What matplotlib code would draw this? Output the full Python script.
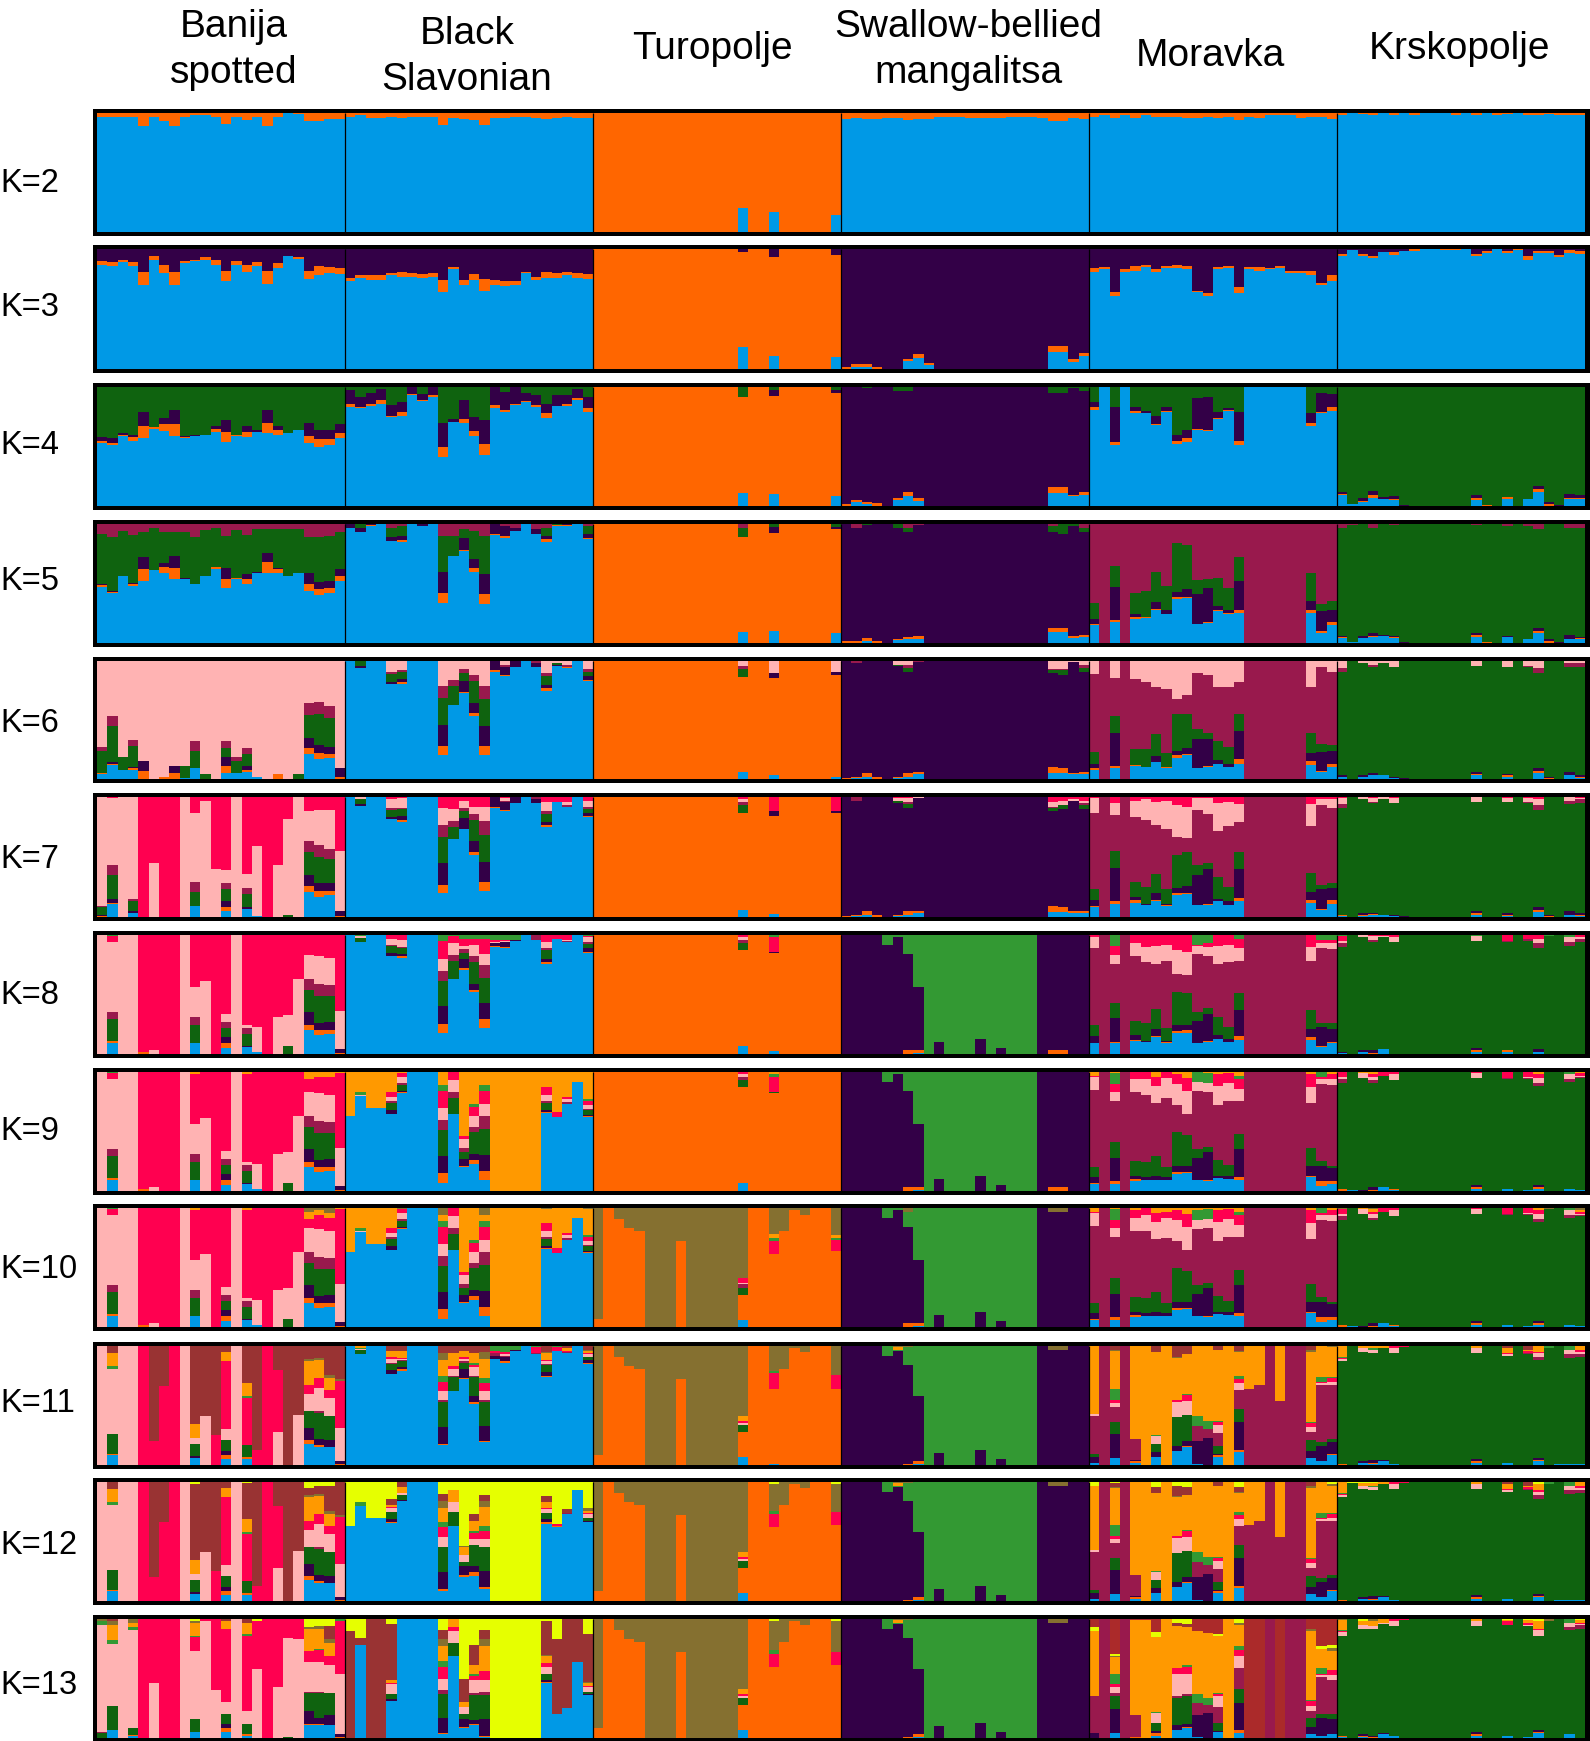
import numpy as np
import matplotlib
matplotlib.use("Agg")
import matplotlib.pyplot as plt
from matplotlib.patches import Rectangle

W, H = 1590, 1741
plt.rcParams['font.family'] = ['Liberation Sans', 'DejaVu Sans']

POPS = ["Banija\nspotted", "Black\nSlavonian", "Turopolje", "Swallow-bellied\nmangalitsa", "Moravka", "Krskopolje"]
KS = [2, 3, 4, 5, 6, 7, 8, 9, 10, 11, 12, 13]
ORDER = "bopgmkrlavnyf"
COLORS = dict(b="#0099E6", o="#FF6600", p="#330047", g="#0F630F", m="#99194D", k="#FFB3B3", r="#FF0050",
              l="#339933", a="#FF9900", v="#857030", n="#993333", y="#E6FF00", f="#AB2A2A")


def cols(keys, *series):
    return {i: (keys, *[s[i] for s in series]) for i in range(24)}


def with_top(spec, key, vals):
    out = dict(spec)
    for c, v in vals.items():
        e = out.get(c, ("",))
        out[c] = (e[0] + key, *e[1:], v)
    return out


def move(spec, src, dst, vals):
    out = dict(spec)
    for c, v in vals.items():
        e = out[c]
        k = e[0]
        nums = list(e[1:])
        i = k.index(src)
        nums[i] = max(nums[i] - v, 0)
        out[c] = (k + dst, *nums, v)
    return out


# ---------- K=2 ----------
K2 = [
 ("b", cols("o", [3,3,3,3,11,3,7,11,3,2,2,3,9,3,6,3,11,3,0,1,7,7,5,5])),
 ("b", cols("o", [3,2,4,4,3,4,3,3,3,10,4,5,6,10,4,4,3,3,4,5,4,3,4,4])),
 ("o", {14:("b",20), 17:("b",17), 23:("b",14)}),
 ("b", cols("o", [5,4,5,5,4,4,6,5,5,3,3,3,4,4,4,4,3,3,3,4,7,7,4,5])),
 ("b", cols("o", [3,2,4,2,4,2,3,3,3,4,4,3,4,3,6,3,4,2,2,2,4,3,3,5])),
 ("b", cols("o", [2,0,1,2,0,2,0,2,0,0,0,2,0,2,0,2,1,0,2,2,1,2,2,2])),
]
# ---------- K=3 ----------
K3 = [
 ("b", cols("op", [3,3,2,3,11,3,7,11,2,1,2,4,9,3,6,3,11,4,0,1,7,8,5,5],
                  [10,11,9,11,19,6,13,19,10,9,7,9,18,10,13,11,18,12,6,7,18,14,15,16])),
 ("b", cols("op", [3,2,4,4,2,4,3,3,3,10,2,4,5,10,4,4,3,1,3,5,4,3,4,4],
                  [24,22,22,22,20,19,20,21,20,26,15,26,21,25,26,27,27,19,23,19,20,19,20,21])),
 ("o", {14:("bp",18,2.5), 17:("bp",11,7), 23:("bp",10,5)}),
 ("p", {0:("o",2), 1:("bo",1.5,2.5), 2:("bo",1.5,3), 3:("o",2), 6:("bo",7,1.5), 7:("bo",9,3.5), 8:("bo",3,2),
        20:("bo",14,5), 21:("bo",14,5), 22:("bo",6,2), 23:("bo",11,2)}),
 ("b", cols("op", [3,2,3,2,4,2,2,2,3,3,1,2,2,2,5,2,3,1,2,2,2,4,2,5],
                  [16,15,36,17,14,13,17,14,13,14,35,37,15,14,32,15,15,16,14,18,18,18,28,22])),
 ("b", cols("op", [2,0,1.5,1.5,0,2.5,0,2,0,0,1,1,0,2,1,0,1,1,3,2,1,1.5,2,2.5],
                  [4,1,4,6,2.5,2.5,2,0,0,0,0,0,0,4,2,0,2,0,6,1.5,2,5,1,2])),
]
# ---------- K=4 ----------
K4 = [
 ("g", cols("bop", [53,51,59,55,57,65,63,59,57,59,60,62,54,59,58,62,61,60,61,64,53,50,51,57],
                   [2,2,1,3,10,1,6,10,1,0,0,3,8,1,4,0,9,4,0,0,6,6,5,4],
                   [3,4,1,2,12,0,5,12,1,1,0,2,10,0,5,2,11,3,0,0,11,8,8,8])),
 ("g", cols("bop", [83,82,84,86,75,76,93,88,92,41,71,70,59,43,82,79,85,87,83,74,84,84,89,79],
                   [3,1,2,3,1,3,1,1,1,9,0,3,4,9,3,2,1,1,2,4,0,2,2,3],
                   [11.5,9,9,9,9,8,6,5,7,20,2,16,12,20,15,15,14,7,8,8,9,7,7,10])),
 ("o", {14:("bg",11,8), 17:("bpg",10,5,2.5), 23:("bpg",8,2.5,2.5)}),
 ("p", {0:("o",2), 1:("bo",3,2), 2:("bog",1.5,2,1), 3:("o",2.5), 5:("bog",5,1.5,3), 6:("bog",8,3.5,3.5), 7:("bo",4,3),
        20:("bog",11,5,5), 21:("bog",11,5,5), 22:("bog",8,1.5,1), 23:("bog",9,2.5,3)}),
 ("g", cols("bop", [81,100,51,100,78,78,68,79,52,54,64,63,73,80,51,100,100,100,100,100,100,67,78,80],
                   [2,0,3,0,2,.5,.5,1,3,3,1,1,1,.5,4,0,0,0,0,0,0,3,1,3],
                   [4,0,29,0,3,1,7,3,5,7,26,28,5,2,24,0,0,0,0,0,0,8,16,11])),
 ("g", {0:("bop",9,1,2), 1:("b",2), 2:("bop",3,1,3), 3:("bop",7,2,4), 4:("bp",6,1.5), 5:("bop",5,1,2), 6:("p",1),
        13:("bop",5,1.5,2.5), 14:("o",.5), 16:("bo",6,1.5), 18:("b",6), 19:("bop",12,2,2.5), 20:("op",1.5,1.5),
        21:("p",1), 22:("bop",6,1,3), 23:("bop",6,1,2)}),
]
# ---------- K=5 ----------
K5 = [
 ("g", cols("bopm", [47,42,56,48,52,61,59,54,54,50,56,62,46,54,50,59,59,59,56,59,44,40,42,52],
                    [1.5,1,0,1.5,10,0,5,9,0,0,0,2,8,1,4,0,9,3,0,0,6,5,4,4],
                    [1,1,0,1,10,0,3,10,1,0,0,0,9,0,4,1,8,1,0,0,9,6,6,6],
                    [8,11,6,9,7,3,7,7,7,11,5,3,10,5,9,4,4,4,4,4,11,11,10,7])),
 ("b", {0:("p",3), 1:("pg",3.5,3.5), 2:("op",1,1), 4:("pgm",3.5,8,3), 5:("opgm",1.5,3,9,1.5), 7:("p",2),
        9:("opgm",8,18,30,10), 10:("gm",17,10), 11:("opgm",1,10,8,4), 12:("opgm",3,8,23,6), 13:("opgm",8,17,32,10),
        14:("op",1,8), 15:("opm",1.5,8,2), 16:("pm",3,3), 18:("pm",4,4), 19:("opgm",2.5,3,7,3), 20:("og",1,1),
        21:("op",1,1), 23:("opgm",1,4,6,2)}),
 ("o", {14:("bgm",9.5,8,3), 17:("bpg",10,5,2.5), 23:("bpg",8.5,2,2.5)}),
 ("p", {0:("o",1.5), 1:("om",1.5,3), 2:("bog",2,2.5,.5), 3:("o",2), 5:("bog",2.5,1,3), 6:("bogm",3,2,4,3), 7:("bom",3,2.5,1),
        20:("bogm",9,4,5,1.5), 21:("bog",9,4,8), 22:("bog",4.5,1.5,1.5), 23:("bogm",5,2,4,3)}),
 ("m", {0:("bopg",15,1,4,14), 2:("bopg",18,1,28,18), 4:("bopg",20,2,2,18), 5:("bog",21,.5,22), 6:("bopg",28,.5,6,25),
        7:("bopg",24,.5,3,20), 8:("bopg",37,2,4,41), 9:("bopg",38,1,6,37), 10:("bpg",16,25,12), 11:("bopg",17,1,28,8),
        12:("bopg",27,1,3,24), 13:("bopg",24,1,3,18), 14:("bopg",25,3,24,20), 21:("bopg",25,3,7,24),
        22:("bopg",8,2,17,6), 23:("bopg",15,3,10,7)}),
 ("g", {0:("bopm",4,1,1,3), 1:("bm",.5,1), 2:("bp",4,1.5), 3:("bopm",5,.5,3,3), 4:("bp",6,1), 5:("bopm",4,1,1,1), 6:("p",1),
        13:("bopm",5,1.5,2,1), 14:("o",1), 16:("bpm",5,1,1.5), 18:("bm",3,1.5), 19:("bopm",8,2,3,4), 20:("op",1.5,1.5),
        21:("p",1), 22:("bopm",3,.5,3,3), 23:("bopm",3,1,1,3)}),
]
# ---------- K=6 ----------
K6 = [
 ("k", {0:("bogm",4,1.5,18,4), 1:("bopgm",12,1,1,31,8), 2:("bg",8,11), 3:("bopgm",8,1,1,18,5), 4:("op",7,8), 6:("o",2),
        7:("op",5,6), 8:("bg",1,10), 9:("bgm",9,15,8), 10:("g",4), 12:("bopgm",5,6,8,7,6), 13:("bogm",5,.5,10,3),
        14:("bopgm",6,2,3,10,5), 15:("b",2), 17:("o",4), 19:("g",4), 20:("bopgm",21,5,9,19,10), 21:("bopgm",17,5,7,26,10),
        22:("bopgm",18,3,6,25,10), 23:("op",2,7)}),
 ("b", {1:("pg",2,4), 4:("pgmk",1.5,7,2,9), 5:("opgmk",1.5,3,6,1,8), 9:("opgmk",8,18,23,10,21), 10:("gmk",16,5,16),
        11:("opgmk",1,9,7,3,7), 12:("opgmk",3,8,19,5,12), 13:("opgmk",8,17,23,11,21), 14:("op",1,8), 15:("opmk",1,7,2,3),
        16:("p",5), 18:("pm",3,2), 19:("opgmk",2.5,2.5,8,2.5,10), 20:("opgk",.5,1,1,2), 21:("omk",1,2,3), 23:("opgmk",1,3,4,2,7)}),
 ("o", {14:("bgmk",6,7,2,4.5), 17:("bpk",3,4,10), 23:("bpk",2,2,9.5)}),
 ("p", {0:("o",1), 1:("bom",.5,1.5,2), 2:("bo",2,3), 3:("o",2), 5:("bogk",.5,1.5,1,3), 6:("bogmk",2,3,3,3,3), 7:("bom",4,2,1),
        20:("bogmk",5,5,2,1,7), 21:("bogmk",5,4,4,1,7), 22:("bok",4,1,1), 23:("bogmk",4,2,3,3,3)}),
 ("m", {0:("bopgk",8,1,4,10,11), 2:("bopgk",9,2,28,14,14), 4:("bogk",11,1,13,15), 5:("bogk",10,.5,15,18), 6:("bopgk",14,.5,5,19,22),
        7:("bogk",9,1,12,24), 8:("bopgk",18,2,4,31,32), 9:("bopgk",20,1,5,29,29), 10:("bpgk",9,25,8,10), 11:("bopgk",10,1,23,5,12),
        12:("bpgk",13,3,16,22), 13:("bpgk",10,3,14,22), 14:("bopgk",13,4,24,14,18), 21:("bopgk",12,3,7,17,22),
        22:("bopgk",6,1,16,7,5), 23:("bopgk",10,3,11,5,9)}),
 ("g", {0:("bpmk",2,1,3,6), 2:("bpk",2,1,2), 3:("bopmk",3,.5,2,2,3), 4:("bpk",3,.5,2), 5:("bopk",.5,.5,1,5), 6:("p",.5),
        13:("bopk",3,1,2,4), 16:("bopk",2,1,1,5), 18:("mk",1,4), 19:("bopmk",5,2,2,4,6), 20:("op",1,1),
        22:("bpmk",3,3,3,2), 23:("bopmk",1,1,1,3,2)}),
]
# ---------- K=7 ----------
K7 = [
 ("k", {0:("opgm",1,1,6,1), 1:("bopgmr",11,1,3,20,8,1), 3:("bpgm",3,2,8,2), 4:("r",100), 5:("r",55), 6:("r",100), 7:("r",100),
        9:("bgmr",9,12,8,13), 10:("r",3), 11:("r",60), 12:("bopgmr",5,3,5,10,5,61), 14:("bpgmr",7,1,11,5,64), 15:("br",1,41),
        16:("r",100), 17:("r",57), 18:("gr",2,18), 20:("bopgmr",21,5,9,19,9,12), 21:("bopgmr",17,5,6,22,10,11),
        22:("bopgmr",18,4,6,20,9,11), 23:("opr",1,4,45)}),
 ("b", {1:("pgk",2,4,1.5), 4:("pgmkr",1.5,6,1,8,1.5), 5:("opgmkr",1.5,3,6,1,8,1), 9:("opgmkr",7,18,22,10,14,9), 10:("gmkr",10,5,10,10),
        11:("opgmkr",.5,9,6,2.5,6,3), 12:("opgmkr",2,9,18,5,6,8), 13:("opgmkr",7,17,22,12,12,8), 14:("op",1,8), 15:("opmkr",1,7,1,2,1),
        16:("p",5), 18:("pm",3,2), 19:("opgmkr",2,2,7,2,8,4), 20:("r",4), 21:("mkr",1,3,4), 23:("opgmkr",.5,3,3,2,5,3)}),
 ("o", {14:("bgmkr",6,7,2,3,1.5), 17:("bpr",2.5,4,12), 23:("pr",1,12)}),
 ("p", {0:("o",1), 1:("bom",.5,1,3), 2:("bo",2,3), 3:("o",2), 5:("bogkr",.5,1,1.5,3,.5), 6:("bogmkr",2,3,3,2,3,1), 7:("bok",3,2,.5),
        20:("bogmkr",4,5,3,1,4,4), 21:("bogkr",4,4,3,4,3), 22:("bogkr",3,2,.5,1,2), 23:("bogmkr",3,2,3,2,2,3)}),
 ("m", {0:("bopgkr",8,1,5,9,12,1), 2:("bopgkr",11,2,28,14,10,5), 4:("bopgkr",12,2,3,12,14,3), 5:("bpgkr",10,1,14,17,2), 6:("bopgkr",13,1,6,16,19,4),
        7:("bopgkr",9,1,1,12,24,3), 8:("bopgkr",18,2,4,28,26,7), 9:("bopgkr",19,1,6,28,26,8), 10:("bpgkr",10,25,8,10,1), 11:("bopgkr",10,1,29,5,13,1),
        12:("bpgkr",13,2,18,23,5), 13:("bpgkr",10,3,12,20,4), 14:("bopgkr",13,3,24,14,15,6), 21:("bopgkr",12,2,7,16,18,6),
        22:("bopgkr",6,1,16,4,5,2), 23:("bopgkr",11,3,10,4,7,2)}),
 ("g", {0:("bopmkr",1,.5,.5,3,5,1), 2:("bopk",1,1,1,2), 3:("bopmkr",2,.5,1,1,3,1), 4:("bk",2,2), 5:("bopkr",.5,.5,.5,4,1), 6:("p",.5),
        13:("bopk",2,1,2,4), 16:("bopkr",1,1,1,3,1), 18:("mkr",1,3,1), 19:("bopmkr",4,2,2,4,5,2), 20:("op",1,1),
        22:("bpmk",2,3,3,3), 23:("bopmkr",1,1,1,3,1,1)}),
]
# ---------- K=8 ----------
BAN8 = {0:("k",100), 1:("bogmkrl",9,2,18,6,59,5,1), 2:("k",100), 3:("k",100), 4:("o",2), 5:("k",3), 8:("k",100),
        9:("bgmk",9,15,7,25), 10:("k",61), 12:("bopgmk",5,4,5,8,5,7), 13:("k",100), 14:("bpgmk",6,1,10,5,2), 15:("bk",2,21),
        17:("k",31), 18:("gk",7,26), 19:("k",63), 20:("bopgmk",20,4,11,19,9,20), 21:("bopgmk",16,4,6,23,10,23),
        22:("bopgmk",17,3,7,22,9,23), 23:("opk",1,3,32)}
BLK8 = {1:("gkl",3,1.5,1), 4:("pgmkr",2,6,1.5,5,3), 5:("opgmkr",1.5,1.5,5,1,6,4), 9:("opgmkrl",7,15,21,9,10,15,5),
        10:("gmkrl",15,5,10,6,1), 11:("opgmkrl",1.5,8,5,3,3,6,3), 12:("opgmkrl",2,5,18,5,10,5,3), 13:("opgmkrl",7,14,21,11,9,13,3),
        14:("opkrl",1,2,1,2,4), 15:("opkrl",1,4,1,1,4), 16:("pl",1,4), 18:("m",4), 19:("opgmkr",2,2.5,7,2,5,6), 20:("r",3),
        21:("mkr",1,1,4), 23:("opgmkrl",1,3,3.5,2,3.5,1,1)}
SWB8 = {0:("p",100), 1:("p",100), 2:("p",100), 3:("p",100), 4:("p",92), 5:("p",98), 6:("op",3,81), 7:("bop",1,2,53),
        9:("p",10), 13:("p",13), 15:("p",5), 19:("p",100), 20:("op",3,97), 21:("op",3,97), 22:("p",100), 23:("p",100)}
MOR8 = {0:("bopgkr",9,.5,6,9,9,2), 2:("bopgkrl",9,1,20,13,7,8,9), 4:("bopgkr",11,1,4,12,11,7), 5:("bpgkr",10,1,15,13,10),
        6:("bopgkr",14,1,6,17,15,9), 7:("bopgkr",9,1,1,11,14,8), 8:("bopgkr",18,1,5,28,20,13), 9:("bopgkr",18,2,4,27,20,14),
        10:("bpgkrl",9,19,7,7,1,8), 11:("bopgkrl",10,1,23,5,8,3,7), 12:("bpgkr",13,3,15,15,9), 13:("bpgkr",10,3,10,15,8),
        14:("bopgkrl",12,3,22,14,11,8,3), 21:("bopgkr",12,2,7,16,12,10), 22:("bopgkrl",6,1,16,3,4,3,4), 23:("bopgkrl",9,1,11,5,5,3,4)}
KRS8 = {0:("bpmkrl",1,1,3,2,4,1), 2:("bpk",2,1,2), 3:("opmkr",1,2,2,3,1), 4:("bpkr",4,.5,1,1), 5:("kr",4,2), 13:("bopkl",2,1,2,4,1),
        16:("bomr",2,1,.5,5), 18:("mr",2,3), 19:("bpmkr",2,2,4,4,3), 20:("l",1), 22:("mkl",3,4,2), 23:("mkr",3,1,2)}
K8 = [("r", BAN8), ("b", BLK8), ("o", {14:("bgmkr",7,6,3,2,2), 17:("bprl",2.5,1,12,2)}), ("l", SWB8), ("m", MOR8), ("g", KRS8)]
# ---------- K=9 ----------
BAN9 = with_top(BAN8, "a", {9:2, 14:2, 20:6, 21:4, 22:4, 23:1})
BLK9 = {0:("a",37), 1:("kla",1,2,17), 2:("a",30), 3:("a",30), 4:("pgmkra",3,6,2,3,4,17), 5:("opgmkra",.5,1,5,2,5,3,1),
        9:("opgmkrla",8,14,22,9,10,14,5,11), 10:("gmkr",13,5,10,7), 11:("opgmkra",1,6,6,3,8,2,54), 12:("opgmkrla",3,5,19,4,9,8,2,27),
        13:("opgmkrla",8,13,22,11,10,11,5,11), 14:("a",100), 15:("a",100), 16:("a",100), 17:("a",100), 18:("a",100),
        19:("opgmkra",.5,2,6,2,5,6,13), 20:("ra",4,34), 21:("mkra",2,2,2,21), 22:("a",8), 23:("opgmkrla",1,1,4,1,3,4,1,23)}
MOR9 = {0:("bopgkra",6,1,5,8,11,1,3), 2:("bopgkrla",6,2,20,13,7,7,9,1), 4:("bopgkr",8,2,3,12,11,6), 5:("bpgkr",9,3,12,13,6),
        6:("bpgkra",9,4,16,14,8,4), 7:("bpgkr",9,3,8,17,5), 8:("bopgkra",14,2,5,29,18,8,2), 9:("bopgkra",15,1,5,26,19,11,5),
        10:("bpgkl",9,19,7,8,8), 11:("bopgkla",8,1,24,4,8,8,1), 12:("bpgkra",11,2,13,16,10,2), 13:("bpgkra",10,3,9,15,8,1),
        14:("bopgkrla",9,3,23,13,10,8,3,3), 21:("bopgkra",12,1,8,15,13,11,2), 22:("bopgkrl",4,4,13,4,4,2,4), 23:("bopgkra",6,2,11,2,5,4,2)}
KRS9 = {0:("omkr",1.5,3,2,4), 1:("b",1), 2:("pak",1,1,4), 3:("opmkra",1,2,2,3,2,2), 4:("br",3,3), 5:("bokr",1,.5,5,2), 13:("bopkr",2,1,2,4,1),
        16:("bmr",2,1,5), 18:("bmkr",1,1,1,4), 19:("bopmkra",2,1,2,3,4,3,2), 22:("bmkl",2,2,4,2), 23:("bmkra",1,1,1,2,1)}
K9 = [("r", BAN9), ("b", BLK9), ("o", {14:("bgmkr",7,6,3,2,2), 17:("grla",.5,13,2,2)}), ("l", SWB8), ("m", MOR9), ("g", KRS9)]
# ---------- K=10 ----------
TUR10 = {0:("o",7), 1:("o",100), 2:("o",91), 3:("o",83), 4:("o",81), 5:("v",100), 6:("v",100), 7:("v",100), 8:("o",72),
         9:("v",100), 10:("v",100), 11:("v",100), 12:("v",100), 13:("v",100), 14:("bogmkr",6,21,6,3,1,4), 15:("o",100), 16:("o",100),
         17:("orla",61,11,3,3), 18:("o",81), 19:("o",98), 20:("o",94), 21:("o",100), 22:("o",100), 23:("orla",64,9,2,2)}
BLK10 = move(BLK9, "a", "v", {9:6, 13:6, 19:1, 23:1, 5:1})
SWB10 = {**SWB8, 6:("opv",3,81,3), 20:("pv",97,3), 21:("pv",97,3)}
K10 = [("r", with_top(BAN9, "v", {20:3, 21:2, 22:4})), ("b", BLK10), ("v", TUR10), ("l", SWB10),
       ("m", with_top(MOR9, "a", {4:2, 7:3, 10:2})), ("g", with_top(KRS9, "v", {0:1, 3:1, 20:1, 23:2}))]
# ---------- K=11 ----------
BAN11 = {0:("k",100), 1:("bogklan",8,1,17,55,2,11,6), 2:("k",100), 3:("k",100), 4:("r",100), 5:("rn",20,80), 6:("rn",66,34), 7:("r",100),
         8:("k",100), 9:("bpgkan",6,1.5,10,5,12,66), 10:("kn",41,59), 11:("rn",25,75), 12:("bopgkran",5,3,4,9,9,57,8,5), 13:("k",100),
         14:("bogrlan",5,2,10,39,2,11,31), 15:("rn",13,87), 16:("r",100), 17:("krn",28,52,20), 18:("n",100),
         19:("kn",42,58), 20:("bopgkravn",18,3,10,14,15,7,20,2,11), 21:("bopgmkravn",15,2,5,22,1,20,8,15,2,10),
         22:("bpgkravn",15,6,20,15,7,10,3,24), 23:("opkrvn",1,2,28,40,1,28)}
BLK11 = {1:("gkla",3,1,1,1.5), 4:("pgmkran",3,5,1.5,3,2,5,4), 5:("opgmkran",2,1,5,1,1,1,6,4),
         9:("opgmkrlavn",1,14,21,2,7,8,5,13,6,6), 10:("gmkran",12,1,6,2,11,6), 11:("opgmkran",1,8,5,1,2,2,5,4),
         12:("opgmkrlan",2,5,16,1,7,2,2,8,6), 13:("opgmkrlavn",1,13,20,2,7,7,4,16,6,5), 14:("pmrl",3,2,2,4), 15:("opmkrl",1,4,1,1,2,5),
         16:("pl",1,3), 18:("mrl",1,5,1), 19:("opgmkravn",1,3,6,1,2,1,6,1,5), 20:("rl",3,1), 21:("mran",1,1,2,2),
         23:("opgkravn",1,2,3,2,1,2,1,3)}
MOR11 = {0:("bpgka",2,5,2,2,57), 2:("bpgkrlavn",6,20,10,3,3,9,32,1,3), 4:("bopa",2,1,1,78), 5:("a",100),
         6:("bpgklan",7,4,7,6,1,70,5), 7:("a",100), 8:("bpgkravn",12,4,24,13,2,35,1,9), 9:("bopgkrlan",15,1,4,22,12,5,1,33,7),
         10:("bpla",1,19,8,59), 11:("pla",23,7,63), 12:("bopgkrlan",7,1,1,7,7,2,1,60,3), 13:("a",100),
         14:("bopgkrlavn",11,2,23,11,6,3,3,20,1,4), 15:("a",36), 16:("a",33), 18:("a",46), 21:("bpgkrlavn",6,6,9,4,3,1,59,2,3),
         22:("bpgkrla",3,13,3,2,1,4,26), 23:("bopgkrlav",8,1,10,3,3,3,1,25,1)}
KRS11 = {0:("okrla",1,2,1,1,9), 2:("bpka",2,1,3,2), 3:("bopkla",1,1,2,3,1,2), 4:("bpa",3,1,2), 5:("bkr",1,4,2), 6:("r",1),
         13:("bopka",2,1,2,4,2), 16:("bkran",2,1,1,4,2), 18:("mran",1,2,1,3), 19:("bopmkra",3,1,2,3,3,1,5), 20:("l",2),
         21:("b",1), 22:("bmkl",1,3,4,3), 23:("bmkra",1,2,2,2,3)}
SWB11 = {**SWB8, 5:("pav",96,2,1), 6:("opv",1,83,1), 7:("bop",1,2,55), 20:("pv",97,3), 21:("pv",97,3)}
TUR11 = {**TUR10, 0:("o",8), 14:("bogkra",7,21,6,1,2,4), 17:("borl",1,63,13,2), 20:("o",95), 23:("or",64,12)}
K11 = [("k", BAN11), ("b", BLK11), ("v", TUR11), ("l", SWB11), ("m", MOR11), ("g", KRS11)]
# ---------- K=12 ----------
BLK12 = {0:("y",37), 1:("ly",3,17), 2:("y",30), 3:("y",30), 4:("opgkrany",.5,3,6,3,1,2,5,14), 5:("pgkan",1,4,2,5,4),
         9:("opgkrlavny",2,14,21,9,8,4,12,6,6,10), 10:("gkay",12,8,10,7), 11:("opgkavy",2,7,4,6,6,1,54),
         12:("opgkrlany",3,5,18,5,5,2,8,6,27), 13:("opgkrlavny",2,13,20,7,7,4,16,5,5,11), 14:("y",100), 15:("y",100), 16:("y",100), 17:("y",100), 18:("y",100),
         19:("opgkrany",1,3,5,3,1,5,5,12), 20:("ory",1,2,35), 21:("mny",1,3,23), 22:("y",7), 23:("pgkravy",1,3,3,1,2,2,22)}
MOR12 = move(MOR11, "a", "y", {0:3, 2:1, 6:4, 8:3, 9:4, 14:4, 23:2})
K12 = [("k", move(BAN11, "n", "y", {9:2, 14:1, 20:5, 21:3, 22:3})), ("b", BLK12),
       ("v", {**TUR11, 17:("orly",62,11,3,2), 23:("ory",64,11,2)}), ("l", SWB11), ("m", MOR12),
       ("g", with_top(KRS11, "y", {1:1, 2:1, 3:1, 19:2}))]
# ---------- K=13 ----------
BAN13 = {0:("gmklv",4,1,90,3,2), 1:("bgklavn",7,20,52,3,13,3,2), 2:("k",100), 3:("bogklav",2,.5,6,82,2,4,3), 4:("r",100), 5:("kr",46,54), 6:("r",100), 7:("r",100),
         8:("k",100), 9:("bgkrlavy",5,11,56,12,1,11,1,2), 10:("kr",98,2), 11:("kr",40,60), 12:("bopgkran",5,3,4,8,10,62,6,2), 13:("k",100),
         14:("bogkrlan",2,1,9,11,63,1,10,3), 15:("kry",58,40,2), 16:("r",100), 17:("kr",43,57), 18:("gkr",1,83,16), 19:("kr",83,17),
         20:("bopgmkravy",11,1,12,15,1,26,10,19,2,7), 21:("bopgmkrlavy",11,1,5,21,1,25,10,1,17,2,6), 22:("bpgkravny",11,8,19,23,8,11,3,11,6),
         23:("opkrl",1,2,51,44,2)}
BLK13 = {0:("ny",90,10), 1:("bny",78,6,16), 2:("n",100), 3:("n",100), 4:("bpgkrany",31,2,4,8,1,3,47,4), 5:("b",100), 6:("b",100), 7:("b",100), 8:("b",100),
         9:("bopgmkrlavny",1,1,13,20,3,10,10,5,12,6,8,9), 10:("bgkra",69,11,10,3,7), 11:("bopgkany",7,1,7,4,6,4,20,50), 12:("bopgmkrlany",11,1,3,21,2,11,3,2,7,17,22),
         13:("bopgmkravny",1,1,14,20,3,10,7,21,6,8,9), 14:("y",100), 15:("y",100), 16:("y",100), 17:("y",100), 18:("y",100),
         19:("bopgkravny",46,1,2,5,6,3,6,1,28,2), 20:("bny",20,63,17), 21:("bn",25,75), 22:("bn",64,36), 23:("bpgkravny",36,1,2,4,1,2,1,40,13)}
MOR13 = {0:("payf",4,55,3,7), 2:("bpgkrlavyf",4,20,11,5,2,9,14,1,2,29), 4:("oaf",1,80,1), 5:("af",99,1),
         6:("bopgklayf",2,2,2,7,8,1,63,4,11), 7:("a",100), 8:("bpgkrany",7,4,23,19,5,35,3,3), 9:("bopgkrlany",8,1,3,23,17,6,1,32,3,4),
         10:("bplaf",1,18,8,53,10), 11:("plaf",21,6,54,12), 12:("bpgkrlayf",5,1,7,9,2,1,48,1,13), 13:("a",100),
         14:("bopgkrlavy",4,3,22,12,10,5,3,18,2,3), 15:("f",100), 16:("f",100), 18:("f",100), 21:("bpgkrlavf",3,6,8,4,4,1,58,2,8),
         22:("bpgkrlayf",2,15,3,2,1,5,16,2,23), 23:("bpgkravyf",3,13,4,4,4,16,3,2,22)}
KRS13 = {0:("bokrlav",1,1,3,1,1,8,1), 2:("bopkay",1,1,1,3,3,2), 3:("opkav",1,1,2,4,2), 4:("bpka",3,1,1,3), 5:("bkr",2,4,2), 6:("r",1),
         13:("bopka",2,1,2,4,2), 16:("bray",2,3,1,1), 18:("bkray",1,1,2,2,1), 19:("bopkray",4,1,2,5,1,6,2), 20:("v",2),
         22:("bmkl",3,2,4,3), 23:("mkray",3,1,1,2,1)}
K13 = [("k", BAN13), ("b", BLK13), ("v", {**TUR11, 17:("orly",60,11,3,2), 23:("ory",61,11,2)}), ("l", SWB11), ("m", MOR13), ("g", KRS13)]

ALL_K = [K2, K3, K4, K5, K6, K7, K8, K9, K10, K11, K12, K13]

# layout (pixels, inner plot rectangle of each row)
LEFT, RIGHT = 97, 1585
TOPS = [113, 249, 387, 524, 661, 797, 935, 1072, 1208, 1346, 1482, 1619]
BOTS = [232, 369, 506, 643, 779, 917, 1054, 1191, 1327, 1465, 1601, 1738]
K_Y = [184, 307, 445, 581, 723, 859, 996, 1132, 1269, 1404, 1546, 1685]
POP_X = [234, 467, 712, 968, 1210, 1459]
POP_Y = [50, 57, 49, 50, 56, 49]

fig = plt.figure(figsize=(W / 100, H / 100), dpi=100, facecolor="white")


def build_matrix(panel):
    mat = {k: np.zeros(144) for k in ORDER}
    for p, (fill, spec) in enumerate(panel):
        for c in range(24):
            e = spec.get(c, ("",))
            col = {}
            for k, v in zip(e[0], e[1:]):
                col[k] = col.get(k, 0) + v
            s = sum(col.values())
            if s > 100:
                col = {k: v * 100 / s for k, v in col.items()}
                s = 100
            col[fill] = col.get(fill, 0) + 100 - s
            for k, v in col.items():
                mat[k][p * 24 + c] = v
    return mat


for K, panel, top, bot, ky in zip(KS, ALL_K, TOPS, BOTS, K_Y):
    fig.add_artist(Rectangle((93 / W, 1 - (bot + 4) / H), (W - 93) / W, (bot - top + 8) / H,
                             transform=fig.transFigure, fc="black", ec="none", zorder=0))
    ax = fig.add_axes([LEFT / W, 1 - bot / H, (RIGHT - LEFT) / W, (bot - top) / H], zorder=2)
    mat = build_matrix(panel)
    bottom = np.zeros(144)
    x = np.arange(144)
    for k in ORDER:
        if mat[k].any():
            ax.bar(x, mat[k], bottom=bottom, width=1.0, align="edge", color=COLORS[k], linewidth=0)
        bottom += mat[k]
    ax.set_xlim(0, 144)
    ax.set_ylim(0, 100)
    ax.axis("off")
    ax.vlines([24, 48, 72, 96, 120], 0, 100, color="black", linewidth=0.9)
    fig.text(0, 1 - ky / H, f"K={K}", fontsize=23.5, va="center", ha="left", color="black")

for name, x, y in zip(POPS, POP_X, POP_Y):
    fig.text(x / W, 1 - y / H, name, fontsize=28, ha="center", va="center", color="black", linespacing=1.38)

fig.savefig("out.png", dpi=100)
